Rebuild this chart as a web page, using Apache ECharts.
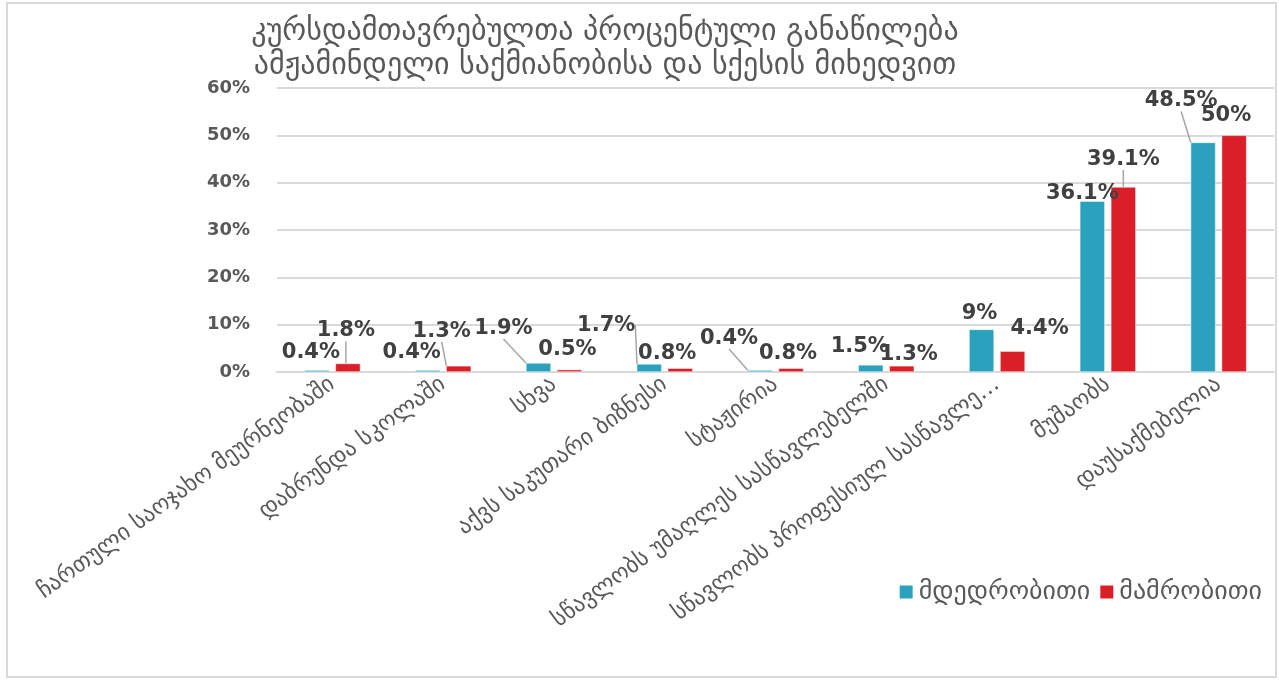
<!DOCTYPE html>
<html>
<head>
<meta charset="utf-8">
<script src="https://cdn.jsdelivr.net/npm/echarts@6/dist/echarts.min.js"></script>
<style>
  html, body { margin: 0; padding: 0; background: #fff; }
  #frame { position: absolute; left: 6px; top: 2px; width: 1267px; height: 672px; border: 2px solid #d9d9d9; }
  #chart { position: absolute; left: 0; top: 0; width: 1279px; height: 682px; }
</style>
</head>
<body>
<div id="frame"></div>
<div id="chart"></div>
<script>
const categories = [
  'ჩართული საოჯახო მეურნეობაში',
  'დაბრუნდა სკოლაში',
  'სხვა',
  'აქვს საკუთარი ბიზნესი',
  'სტაჟირია',
  'სწავლობს უმაღლეს სასწავლებელში',
  'სწავლობს პროფესიულ სასწავლე…',
  'მუშაობს',
  'დაუსაქმებელია'
]
const seriesNames = ['მდედრობითი', 'მამრობითი']
const femaleValues = [0.4, 0.4, 1.9, 1.7, 0.4, 1.5, 9, 36.1, 48.5]
const maleValues = [1.8, 1.3, 0.5, 0.8, 0.8, 1.3, 4.4, 39.1, 50]
const yTicks = [0, 10, 20, 30, 40, 50, 60]

// label nudges (Excel callouts were dragged around), and which ones keep a leader line
const femaleLabelShift = [[-6, -2], [-16, -2], [-35, -19], [-43, -23], [-31, -16], [-11, -3], [-2, 0], [-10, 8], [-22, -26]]
const maleLabelShift = [[-2, -17], [-17, -19], [-2, -5], [-13, 1], [-3, 1], [7, 4], [27, -7], [0, -12], [-8, -4]]
const femaleCallout = [false, false, true, true, true, false, false, false, true]
const maleCallout = [true, true, false, false, false, false, false, true, false]

const colors = ['#2ca1be', '#da1f28']
const geo = "'DejaVu Sans', sans-serif"

const chart = echarts.init(document.getElementById('chart'))

const makeSeries = (name, values, shifts, callouts, color) => ({
  name,
  type: 'bar',
  data: values.map((v, i) => ({ value: v, labelLine: { show: callouts[i] } })),
  barWidth: 25,
  barGap: '24%',
  itemStyle: { color, borderColor: '#ffffff', borderWidth: 0.5 },
  label: {
    show: true,
    position: 'top',
    distance: 5,
    formatter: (p) => p.value + '%',
    fontFamily: geo,
    fontWeight: 'bold',
    fontSize: 21,
    color: '#404040'
  },
  labelLine: {
    show: true,
    lineStyle: { color: '#a6a6a6', width: 1.5 }
  },
  labelLayout: (p) => ({ dx: shifts[p.dataIndex][0], dy: shifts[p.dataIndex][1] })
})

chart.setOption({
  animation: false,
  title: {
    text: 'კურსდამთავრებულთა პროცენტული განაწილება\nამჟამინდელი საქმიანობისა და სქესის მიხედვით',
    left: 600,
    top: 10,
    textAlign: 'center',
    textStyle: {
      fontFamily: geo,
      fontSize: 30,
      fontWeight: 'normal',
      color: '#595959',
      lineHeight: 34
    }
  },
  legend: {
    data: seriesNames,
    right: 12,
    top: 574,
    icon: 'rect',
    itemWidth: 15,
    itemHeight: 15,
    itemGap: 8,
    textStyle: { fontFamily: geo, fontSize: 26, color: '#595959' }
  },
  grid: { left: 277, right: 5, top: 88, bottom: 310 },
  xAxis: {
    type: 'category',
    data: categories,
    axisLine: { lineStyle: { color: '#d9d9d9', width: 2 } },
    axisTick: { show: false },
    axisLabel: {
      interval: 0,
      rotate: 36,
      margin: 10,
      fontFamily: geo,
      fontSize: 23,
      color: '#595959'
    }
  },
  yAxis: {
    type: 'value',
    min: yTicks[0],
    max: yTicks[yTicks.length - 1],
    interval: yTicks[1] - yTicks[0],
    axisLine: { show: false },
    axisTick: { show: false },
    splitLine: { lineStyle: { color: '#d9d9d9', width: 2 } },
    axisLabel: {
      formatter: '{value}%',
      margin: 27,
      fontFamily: geo,
      fontWeight: 'bold',
      fontSize: 18,
      color: '#595959'
    }
  },
  series: [
    makeSeries(seriesNames[0], femaleValues, femaleLabelShift, femaleCallout, colors[0]),
    makeSeries(seriesNames[1], maleValues, maleLabelShift, maleCallout, colors[1])
  ]
})
</script>
</body>
</html>
